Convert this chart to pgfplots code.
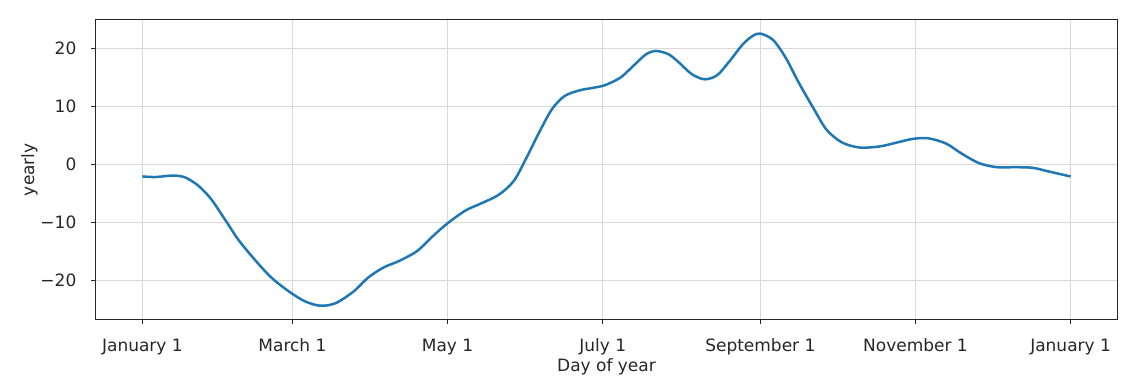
\documentclass[border=0pt]{standalone}
\usepackage{fontspec}
\setmainfont{DejaVu Sans}
\usepackage{pgfplots}
\pgfplotsset{compat=1.18}
\definecolor{mplblue}{HTML}{1F77B4}
\begin{document}
\fontsize{10.2}{12}\selectfont
\begin{tikzpicture}
\begin{axis}[
  width=612.6pt, height=179.6pt, scale only axis,
  xmin=-18.25, xmax=383.25, ymin=-26.8, ymax=24.95,
  xtick={0,59,120,181,243,304,365},
  xticklabels={January 1,March 1,May 1,July 1,September 1,November 1,January 1},
  ytick={-20,-10,0,10,20},
  yticklabels={−20,−10,0,10,20},
  tick align=outside, xtick pos=bottom, ytick pos=left,
  major tick length=3pt,
  every tick/.style={black!85, line width=0.6pt},
  axis line style={black!85, line width=0.6pt},
  grid=major,
  major grid style={black!15, line width=0.6pt},
  xticklabel style={anchor=base, yshift=-16.2pt, inner sep=0pt, font=\fontsize{10.2}{12}\selectfont, text=black!85},
  yticklabel style={anchor=east, xshift=-8.6pt, inner sep=0pt, font=\fontsize{10.2}{12}\selectfont, text=black!85},
  xlabel={Day of year},
  ylabel={yearly},
  xlabel style={at={(axis description cs:0.5,-0.1733)}, anchor=base, inner sep=0pt, font=\fontsize{10.2}{12}\selectfont, text=black!85},
  ylabel style={at={(axis description cs:-0.0607,0.5)}, anchor=base, inner sep=0pt, rotate=0, font=\fontsize{10.2}{12}\selectfont, text=black!85},
  title={yearly},
  title style={at={(axis description cs:0.5,1)}, anchor=base, yshift=13.2pt, inner sep=0pt, font=\fontsize{10.2}{12}\selectfont, text=black!85},
]
\addplot[mplblue, line width=1.5pt, smooth, tension=0.5] coordinates {
(0,-2.1) (5,-2.2) (10,-2.0) (13,-1.95) (17,-2.3) (22,-3.7) (27,-6.0) (33,-9.9)
(38,-13.2) (45,-16.9) (51,-19.7) (58,-22.1) (64,-23.7) (70,-24.45) (76,-24.0)
(83,-22.0) (89,-19.5) (95,-17.8) (101,-16.7) (108,-15.0) (114,-12.5) (120,-10.2)
(127,-8.0) (133,-6.8) (140,-5.3) (146,-2.9) (151,1.1) (156,5.5) (161,9.5)
(166,11.8) (172,12.8) (177,13.2) (182,13.7) (188,15.0) (193,17.0) (198,19.0)
(202,19.6) (207,19.0) (211,17.6) (216,15.6) (221,14.7) (226,15.4) (231,17.9)
(236,20.7) (240,22.2) (243,22.6) (248,21.5) (253,18.4) (258,14.2) (264,9.6)
(269,6.0) (275,3.8) (282,2.9) (290,3.1) (297,3.8) (303,4.4) (309,4.5)
(316,3.6) (322,1.9) (329,0.2) (336,-0.5) (343,-0.5) (350,-0.6) (357,-1.3) (365,-2.1)
};
\coordinate (sw) at (rel axis cs:0,0);
\coordinate (ne) at (rel axis cs:1,1);
\end{axis}
\pgfresetboundingbox
\path[use as bounding box] ([xshift=-57.6pt,yshift=-41.8pt]sw) rectangle ([xshift=15.6pt,yshift=12pt]ne);
\end{tikzpicture}
\end{document}
